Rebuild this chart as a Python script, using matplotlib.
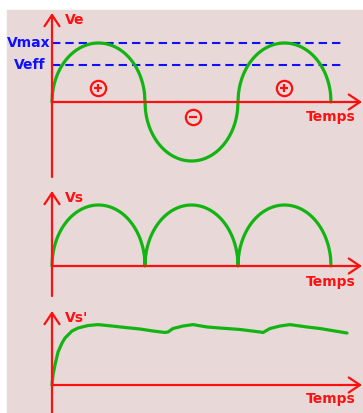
import numpy as np
import matplotlib
matplotlib.use('Agg')
from matplotlib import pyplot as plt
from matplotlib.patches import Rectangle

# Signal values (time in half-periods, voltage relative to Vmax)
n_half = 3             # three half-waves are drawn
v_max = 1.0
v_eff = 0.63           # Veff line as drawn in the picture

# filtered output Vs'
t_filt = [0.0, 0.011, 0.032, 0.065, 0.108, 0.140, 0.215, 0.280, 0.387, 0.495, 0.645,
          0.785, 0.946, 1.086, 1.215, 1.247, 1.301, 1.409, 1.516, 1.667, 1.806, 2.022,
          2.237, 2.269, 2.344, 2.452, 2.559, 2.742, 2.882, 3.172]
v_filt = [0.0, 0.164, 0.328, 0.541, 0.689, 0.770, 0.885, 0.934, 0.975, 0.99, 0.967,
          0.943, 0.918, 0.885, 0.861, 0.869, 0.926, 0.967, 0.99, 0.951, 0.934, 0.910,
          0.869, 0.861, 0.926, 0.967, 0.99, 0.951, 0.926, 0.852]

# sign markers of the input half-waves
sign_t = [0.495, 1.516, 2.49]
sign_v = [0.237, -0.254, 0.237]
sign_pos = [True, False, True]

labels_y = ['Ve', 'Vs', "Vs'"]
label_x = 'Temps'

RED = '#ff1010'
GREEN = '#12b412'
BLUE = '#1010ff'
BG = '#e8d8d8'

W, H = 363, 413
fig = plt.figure(figsize=(W / 100, H / 100), dpi=100)
fig.patches.append(Rectangle((7 / W, 0), (W - 7) / W, (H - 10) / H,
                             transform=fig.transFigure, color=BG, zorder=-10))

px_t = 93.0   # pixels per half-period
x0 = 52.0     # pixel of the time origin


def make_panel(py0, amp, top, bot):
    ax = fig.add_axes([0, 1 - bot / H, 1, (bot - top) / H])
    ax.set_xlim((0 - x0) / px_t, (W - x0) / px_t)
    ax.set_ylim((py0 - bot) / amp, (py0 - top) / amp)
    ax.axis('off')
    ax.patch.set_visible(False)
    return ax


def draw_axes(ax, y_low, y_high, ylabel, temps_dy):
    arrow = dict(arrowstyle='->,head_length=0.45,head_width=0.3', color=RED, lw=1.6,
                 shrinkA=0, shrinkB=0, mutation_scale=18)
    xr = (W - 1 - x0) / px_t
    ax.annotate('', xy=(xr, 0), xytext=(0, 0), arrowprops=arrow, annotation_clip=False)
    ax.annotate('', xy=(0, y_high), xytext=(0, y_low), arrowprops=arrow, annotation_clip=False)
    ax.text(0.14, y_high - 0.12, ylabel, color=RED, fontsize=10, fontweight='bold',
            ha='left', va='center')
    ax.text(xr - 0.07, temps_dy, label_x, color=RED, fontsize=10, fontweight='bold',
            ha='right', va='center')


# half-waves drawn as half-ellipses (as in the sketch)
t_parts, ve_parts = [], []
for k in range(n_half):
    u = np.linspace(-1, 1, 200)
    t_parts.append(k + (u + 1) / 2)
    ve_parts.append((-1) ** k * v_max * np.sqrt(1 - u ** 2))
t = np.concatenate(t_parts)
ve = np.concatenate(ve_parts)

# Input voltage
ax1 = make_panel(102, 59, 0, 178)
ax1.plot(t, ve, color=GREEN, lw=2.3, solid_capstyle='round', zorder=3)
for lev in [v_max, v_eff]:
    ax1.plot([0, (341 - x0) / px_t], [lev, lev], color=BLUE, lw=1.5, dashes=(4, 2.4), zorder=2)
ax1.text(-0.245, v_max, 'Vmax', color=BLUE, fontsize=10, fontweight='bold', ha='center', va='center')
ax1.text(-0.245, v_eff, 'Veff', color=BLUE, fontsize=10, fontweight='bold', ha='center', va='center')
for ts, vs, pos in zip(sign_t, sign_v, sign_pos):
    ax1.plot(ts, vs, 'o', ms=11, mfc='none', mec=RED, mew=1.6, zorder=4)
    ax1.plot(ts, vs, '+' if pos else '_', ms=6, mec=RED, mew=1.6, zorder=4)
draw_axes(ax1, (102 - 177) / 59, (102 - 13) / 59, labels_y[0], -15 / 59)

# Rectified voltage
ax2 = make_panel(266, 61, 178, 298)
ax2.plot(t, np.abs(ve), color=GREEN, lw=2.3, solid_capstyle='round', zorder=3)
draw_axes(ax2, (266 - 296) / 61, (266 - 191) / 61, labels_y[1], -16 / 61)

# Filtered voltage
ax3 = make_panel(385, 61, 298, 413)
ax3.plot(t_filt, v_filt, color=GREEN, lw=2.3, solid_capstyle='round', solid_joinstyle='round', zorder=3)
draw_axes(ax3, (385 - 413) / 61, (385 - 311) / 61, labels_y[2], -14 / 61)

fig.savefig('out.png', dpi=100)
